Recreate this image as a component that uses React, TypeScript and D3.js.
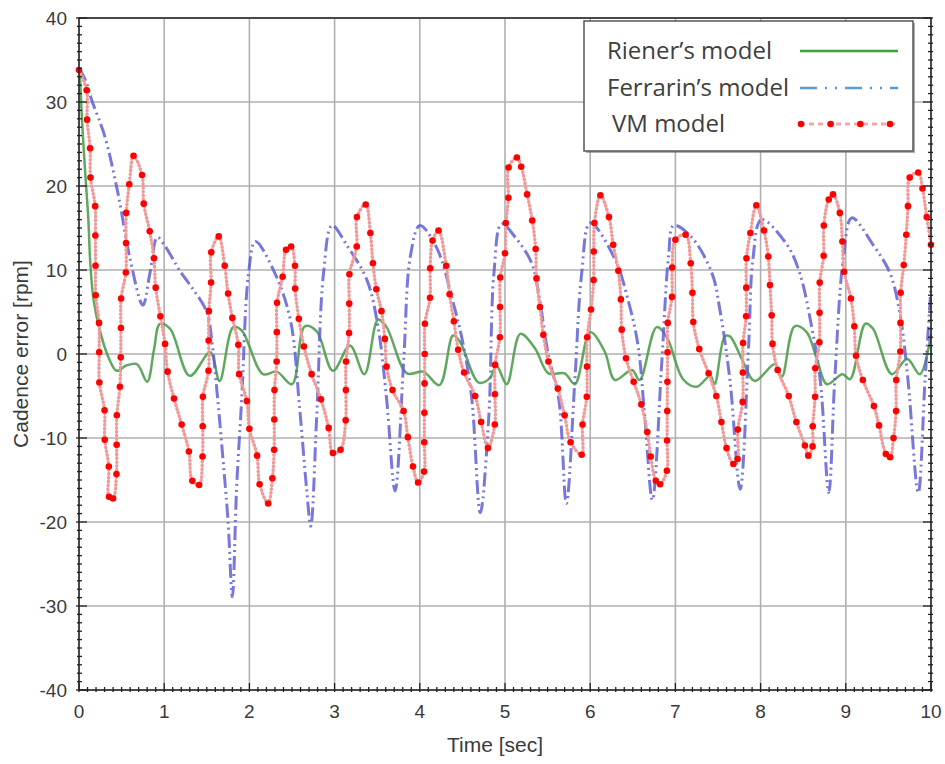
import React from "react";
import * as d3 from "d3";

const timeTicks = [0, 1, 2, 3, 4, 5, 6, 7, 8, 9, 10];
const errorTicks = [-40, -30, -20, -10, 0, 10, 20, 30, 40];

const rienerT = [0, 0.01, 0.04, 0.07, 0.11, 0.13, 0.17, 0.25, 0.35, 0.44, 0.55, 0.68, 0.8, 0.88, 0.95, 1.07, 1.3, 1.54, 1.65, 1.81, 1.91, 2.16, 2.32, 2.5, 2.65, 2.79, 2.98, 3.18, 3.35, 3.51, 3.61, 3.85, 4.04, 4.23, 4.39, 4.47, 4.69, 4.82, 4.9, 5.02, 5.18, 5.35, 5.51, 5.7, 5.82, 6.0, 6.17, 6.29, 6.49, 6.58, 6.78, 6.9, 7.09, 7.25, 7.41, 7.46, 7.58, 7.64, 7.78, 7.93, 8.17, 8.25, 8.4, 8.54, 8.66, 8.78, 8.96, 9.05, 9.23, 9.32, 9.54, 9.72, 9.87, 10.0];
const rienerV = [34, 33, 27, 22, 16, 11.3, 6.5, 2.6, -0.5, -2.0, -1.4, -1.2, -3.3, 0.5, 3.6, 3.0, -2.6, 0.2, -3.2, 3.2, 2.8, -2.4, -2.1, -3.6, 3.3, 2.7, -2.0, 1.0, -2.4, 4.1, 3.2, -2.3, -2.1, -3.7, 2.2, 1.5, -3.4, -2.9, -1.4, -3.6, 2.4, 0.7, -2.3, -2.3, -3.6, 2.6, 0.3, -3.1, -1.9, -3.1, 3.2, 2.0, -3.0, -3.9, -2.6, -3.6, 2.1, 2.1, -0.6, -3.2, -1.2, -2.7, 3.3, 2.6, -0.6, -3.6, -2.4, -3.0, 3.6, 3.0, -2.4, -0.6, -2.4, 2.4];

const ferrarinT = [0, 0.08, 0.15, 0.3, 0.46, 0.6, 0.75, 0.83, 0.92, 1.0, 1.19, 1.34, 1.5, 1.56, 1.62, 1.69, 1.75, 1.8, 1.85, 1.91, 1.99, 2.07, 2.3, 2.48, 2.59, 2.67, 2.72, 2.79, 2.87, 2.97, 3.14, 3.38, 3.51, 3.61, 3.71, 3.81, 3.89, 4.0, 4.2, 4.39, 4.51, 4.61, 4.71, 4.81, 4.87, 4.96, 5.12, 5.31, 5.39, 5.51, 5.63, 5.72, 5.82, 5.9, 6.0, 6.29, 6.45, 6.56, 6.64, 6.73, 6.84, 6.92, 6.98, 7.19, 7.43, 7.52, 7.64, 7.76, 7.86, 7.91, 8.01, 8.31, 8.46, 8.6, 8.7, 8.8, 8.87, 8.97, 9.07, 9.32, 9.52, 9.64, 9.73, 9.85, 9.93, 10.0];
const ferrarinV = [34, 32.5, 30.2, 26, 19, 11.3, 5.8, 9.5, 13.9, 13.0, 9.8, 7.7, 5.0, 1.5, -4.5, -12.5, -20, -28.9, -15.9, -5.3, 9.6, 13.4, 9.6, 4.1, -6.5, -15.9, -20.5, -7.4, 9.6, 15.3, 13.0, 8.8, 3.2, -5.3, -16.3, -1.0, 11.7, 15.3, 12.6, 6.2, 1.1, -5.3, -18.9, -7.4, 9.6, 15.5, 13.9, 10.9, 7.5, -0.2, -5.3, -17.8, -3.1, 9.6, 15.6, 11.3, 6.2, 1.1, -7.4, -17.4, -1.0, 11.7, 15.3, 13.9, 9.6, 5.4, -3.1, -16.1, 1.1, 11.3, 16.0, 13.0, 9.6, 3.2, -3.1, -16.5, -3.1, 11.3, 16.2, 13.0, 9.6, 4.5, -3.1, -16.5, -3.1, 8.0];

const vmT = [0, 0.09, 0.095, 0.13, 0.135, 0.19, 0.192, 0.194, 0.196, 0.235, 0.237, 0.239, 0.3, 0.302, 0.35, 0.352, 0.4, 0.44, 0.442, 0.444, 0.48, 0.49, 0.492, 0.494, 0.55, 0.552, 0.554, 0.59, 0.64, 0.74, 0.76, 0.83, 0.88, 0.9, 0.955, 1.01, 1.04, 1.115, 1.205, 1.29, 1.33, 1.41, 1.45, 1.452, 1.454, 1.52, 1.522, 1.524, 1.55, 1.552, 1.64, 1.71, 1.75, 1.8, 1.87, 1.88, 1.97, 2.0, 2.09, 2.12, 2.22, 2.27, 2.29, 2.292, 2.294, 2.32, 2.322, 2.324, 2.39, 2.43, 2.49, 2.535, 2.537, 2.58, 2.64, 2.73, 2.84, 2.93, 2.98, 3.07, 3.13, 3.132, 3.134, 3.17, 3.172, 3.174, 3.26, 3.262, 3.365, 3.42, 3.45, 3.49, 3.55, 3.59, 3.61, 3.68, 3.81, 3.86, 3.92, 3.98, 4.05, 4.052, 4.054, 4.056, 4.058, 4.06, 4.12, 4.122, 4.15, 4.22, 4.31, 4.35, 4.4, 4.45, 4.52, 4.65, 4.72, 4.8, 4.88, 4.882, 4.884, 4.94, 4.942, 4.944, 5.0, 5.01, 5.04, 5.042, 5.14, 5.19, 5.26, 5.32, 5.36, 5.37, 5.41, 5.45, 5.51, 5.62, 5.7, 5.77, 5.9, 5.91, 5.96, 5.962, 5.964, 6.01, 6.04, 6.042, 6.05, 6.12, 6.22, 6.27, 6.33, 6.36, 6.37, 6.42, 6.51, 6.6, 6.67, 6.71, 6.77, 6.82, 6.9, 6.902, 6.904, 6.906, 6.908, 6.91, 6.96, 6.962, 7.0, 7.12, 7.18, 7.2, 7.21, 7.28, 7.39, 7.48, 7.54, 7.6, 7.68, 7.73, 7.732, 7.79, 7.792, 7.794, 7.83, 7.832, 7.834, 7.88, 7.95, 8.04, 8.09, 8.11, 8.13, 8.14, 8.2, 8.33, 8.42, 8.52, 8.56, 8.61, 8.612, 8.64, 8.642, 8.69, 8.692, 8.694, 8.74, 8.742, 8.8, 8.85, 8.93, 8.96, 8.98, 9.06, 9.1, 9.12, 9.2, 9.33, 9.39, 9.47, 9.52, 9.56, 9.59, 9.592, 9.64, 9.642, 9.644, 9.68, 9.71, 9.73, 9.75, 9.85, 9.9, 9.95, 10.0];
const vmV = [33.8, 31.4, 27.9, 24.5, 21.0, 17.6, 14.1, 10.5, 7.0, 3.7, 0.2, -3.4, -6.7, -10.2, -13.4, -17.0, -17.2, -14.3, -10.8, -7.3, -3.9, -0.4, 3.1, 6.6, 9.7, 13.2, 16.8, 20.2, 23.6, 21.3, 17.9, 14.6, 11.4, 7.9, 4.5, 1.2, -2.1, -5.3, -8.4, -11.6, -15.1, -15.6, -12.2, -8.6, -5.1, -2.0, 1.6, 5.1, 8.5, 12.1, 14.0, 10.5, 7.2, 4.3, 1.1, -2.4, -5.6, -8.9, -12.1, -15.5, -17.8, -14.8, -11.4, -7.8, -4.3, -0.9, 2.6, 6.1, 9.2, 12.4, 12.8, 10.5, 7.8, 4.2, 0.9, -2.4, -5.4, -8.8, -11.8, -11.4, -7.9, -4.3, -0.9, 2.5, 6.0, 9.5, 12.8, 16.3, 17.8, 14.4, 10.8, 7.7, 5.1, 1.8, -1.5, -4.3, -6.8, -9.9, -13.4, -15.3, -14.0, -10.5, -7.0, -3.5, 0.0, 3.6, 6.7, 10.2, 13.5, 14.7, 10.5, 7.1, 3.9, 0.5, -2.2, -5.0, -8.1, -11.2, -8.4, -4.8, -1.3, 2.0, 5.6, 9.1, 12.0, 15.6, 18.6, 22.2, 23.4, 22.3, 19.0, 15.9, 12.5, 9.0, 5.6, 2.3, -0.9, -4.1, -7.3, -10.5, -12.0, -8.4, -5.1, -1.5, 2.0, 5.3, 8.8, 12.2, 15.6, 18.9, 16.3, 13.0, 9.9, 6.5, 2.9, -0.5, -3.3, -6.0, -9.3, -12.2, -15.1, -15.5, -13.9, -10.3, -6.8, -3.3, 0.2, 3.7, 6.8, 10.3, 13.6, 14.2, 10.8, 7.3, 3.8, 0.6, -2.3, -5.0, -8.1, -11.2, -13.1, -12.5, -9.0, -5.7, -2.2, 1.3, 4.5, 7.9, 11.4, 14.4, 17.7, 14.7, 11.6, 8.2, 4.6, 1.2, -1.9, -5.0, -8.1, -10.9, -12.1, -11.0, -8.6, -5.1, -1.7, 1.4, 4.9, 8.5, 11.7, 15.3, 18.4, 19.0, 16.8, 13.4, 9.8, 6.6, 3.3, -0.2, -3.1, -6.2, -8.5, -11.9, -12.3, -10.0, -6.8, -3.1, 0.3, 3.7, 7.3, 10.6, 14.2, 17.6, 21.0, 21.6, 19.7, 16.3, 13.0];

const legendLabels = ["Riener\u2019s model", "Ferrarin\u2019s model", "VM model"];

const W = 945;
const H = 764;
const M = { left: 79, right: 931, top: 18, bottom: 690 };

export default function App() {
  const x = d3.scaleLinear().domain([0, 10]).range([M.left, M.right]);
  const y = d3.scaleLinear().domain([-40, 40]).range([M.bottom, M.top]);
  const line = d3
    .line<[number, number]>()
    .x((d) => x(d[0]))
    .y((d) => y(d[1]))
    .curve(d3.curveCatmullRom.alpha(0.5));

  const riener: [number, number][] = rienerT.map((t, i) => [t, rienerV[i]]);
  const ferrarin: [number, number][] = ferrarinT.map((t, i) => [t, ferrarinV[i]]);
  const vm: [number, number][] = vmT.map((t, i) => [t, vmV[i]]);

  const minorX = d3.range(0, 100.5, 1).map((i) => i / 10).filter((v) => Math.abs(v - Math.round(v)) > 1e-6);
  const minorY = d3.range(-40, 40.5, 1).filter((v) => v % 10 !== 0);

  const font = "'Liberation Sans', Arial, sans-serif";
  const lx0 = 800;
  const lx1 = 898;
  const ly = [51, 88, 124];
  const lxScale = d3.scaleLinear().domain([0, 3]).range([lx0 + 1, lx0 + 90]);

  return (
    <svg
      width={W}
      height={H}
      style={{ position: "absolute", left: 0, top: 0, background: "#fff" }}
    >
      <rect x={0} y={0} width={W} height={H} fill="#fff" />
      {/* grid */}
      <g stroke="#b0b0b0" strokeWidth={1.6}>
        {timeTicks.map((t) => (
          <line key={"gx" + t} x1={x(t)} x2={x(t)} y1={M.top} y2={M.bottom} />
        ))}
        {errorTicks.map((v) => (
          <line key={"gy" + v} x1={M.left} x2={M.right} y1={y(v)} y2={y(v)} />
        ))}
      </g>
      {/* series */}
      <path d={line(riener) || ""} fill="none" stroke="#4f9f4f" strokeWidth={2.5} strokeOpacity={0.9} />
      <path
        d={line(ferrarin) || ""}
        fill="none"
        stroke="#6060d6"
        strokeWidth={3}
        strokeOpacity={0.85}
        strokeDasharray="14,4,2,4,2,4"
      />
      <path
        d={line(vm) || ""}
        fill="none"
        stroke="#f19a9a"
        strokeWidth={3.4}
        strokeLinecap="round"
        strokeDasharray="0.5,3.3"
      />
      <g fill="#ff0000">
        {vm.map((d, i) => (
          <circle key={"vm" + i} cx={x(d[0])} cy={y(d[1])} r={3.3} />
        ))}
      </g>
      {/* frame */}
      <rect
        x={M.left}
        y={M.top}
        width={M.right - M.left}
        height={M.bottom - M.top}
        fill="none"
        stroke="#2a2a2a"
        strokeWidth={1.6}
      />
      <g stroke="#222" strokeWidth={1.3}>
        {minorX.map((t) => (
          <line key={"mx" + t} x1={x(t)} x2={x(t)} y1={M.bottom - 3} y2={M.bottom + 2} />
        ))}
        {minorY.map((v) => (
          <g key={"my" + v}>
            <line x1={M.left - 2} x2={M.left + 3} y1={y(v)} y2={y(v)} />
            <line x1={M.right - 3} x2={M.right + 2} y1={y(v)} y2={y(v)} />
          </g>
        ))}
        {timeTicks.map((t) => (
          <line key={"tx" + t} x1={x(t)} x2={x(t)} y1={M.bottom - 7} y2={M.bottom + 2} />
        ))}
        {errorTicks.map((v) => (
          <g key={"ty" + v}>
            <line x1={M.left - 3} x2={M.left + 8} y1={y(v)} y2={y(v)} />
            <line x1={M.right - 8} x2={M.right + 2} y1={y(v)} y2={y(v)} />
          </g>
        ))}
      </g>
      {/* tick labels */}
      <g fontFamily={font} fontSize={19} fill="#3a3a3a">
        {timeTicks.map((t) => (
          <text key={"lx" + t} x={x(t)} y={M.bottom + 28} textAnchor="middle">
            {t}
          </text>
        ))}
        {errorTicks.map((v) => (
          <text key={"ly" + v} x={M.left - 12} y={y(v) + 7} textAnchor="end">
            {v}
          </text>
        ))}
      </g>
      {/* axis titles */}
      <text
        x={(M.left + M.right) / 2 - 10}
        y={752}
        textAnchor="middle"
        fontFamily={font}
        fontSize={21}
        fill="#3a3a3a"
      >
        Time [sec]
      </text>
      <text
        transform={`translate(28, ${(M.top + M.bottom) / 2}) rotate(-90)`}
        textAnchor="middle"
        fontFamily={font}
        fontSize={21}
        fill="#3a3a3a"
      >
        Cadence error [rpm]
      </text>
      {/* legend */}
      <rect x={586} y={23} width={329} height={130} fill="#777" opacity={0.6} />
      <rect x={584} y={21} width={329} height={130} fill="#fff" stroke="#555" strokeWidth={1.5} />
      <g fontFamily="'Open Sans', Lato, sans-serif" fontSize={24} fill="#404040">
        <text x={607} y={59}>{legendLabels[0]}</text>
        <text x={607} y={96}>{legendLabels[1]}</text>
        <text x={612} y={132}>{legendLabels[2]}</text>
      </g>
      <line x1={lx0} x2={lx1} y1={ly[0]} y2={ly[0]} stroke="#3ca03c" strokeWidth={2.5} />
      <line
        x1={lx0}
        x2={lx1}
        y1={ly[1]}
        y2={ly[1]}
        stroke="#5b9bd5"
        strokeWidth={2.5}
        strokeDasharray="17,8,2,8,2,8"
      />
      <line
        x1={lx0}
        x2={lx1}
        y1={ly[2]}
        y2={ly[2]}
        stroke="#f4a8a8"
        strokeWidth={3}
        strokeDasharray="5,4"
      />
      <g fill="#ff0000">
        {[0, 1, 2, 3].map((i) => (
          <circle key={"lg" + i} cx={lxScale(i)} cy={ly[2]} r={3.3} />
        ))}
      </g>
    </svg>
  );
}
